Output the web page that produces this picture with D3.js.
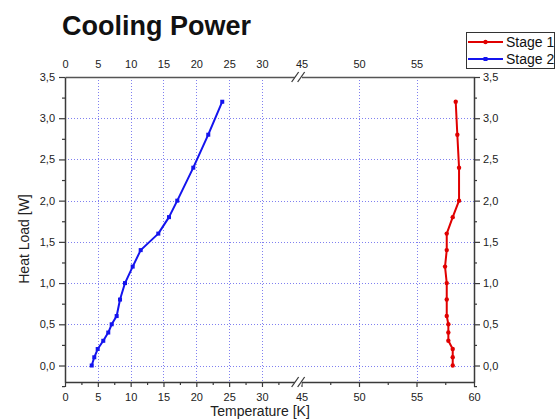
<!DOCTYPE html>
<html>
<head>
<meta charset="utf-8">
<script src="https://cdn.jsdelivr.net/npm/d3@7"></script>
<style>
  html, body { margin: 0; padding: 0; background: #fff; }
  svg { display: block; font-family: "Liberation Sans", Arial, sans-serif; }
</style>
</head>
<body>
<svg id="chart" width="557" height="420"></svg>
<script>
// ---- data ----
const heatLoad = [0, 0.1, 0.2, 0.3, 0.4, 0.5, 0.6, 0.8, 1.0, 1.2, 1.4, 1.6, 1.8, 2.0, 2.4, 2.8, 3.2];
const stage1Temp = [58.15, 58.15, 58.15, 57.77, 57.77, 57.77, 57.63, 57.63, 57.63, 57.48, 57.63, 57.63, 58.15, 58.7, 58.7, 58.55, 58.41];
const stage2Temp = [4.07, 4.46, 4.98, 5.83, 6.59, 7.11, 7.87, 8.38, 9.14, 10.31, 11.53, 14.21, 15.84, 17.1, 19.54, 21.82, 23.95];
const xTicksLeft = [0, 5, 10, 15, 20, 25, 30];
const xTicksRight = [45, 50, 55, 60];
const xMinorLeft = [2.5, 7.5, 12.5, 17.5, 22.5, 27.5, 32.5];
const xMinorRight = [47.5, 52.5, 57.5];
const yTicks = [0, 0.5, 1.0, 1.5, 2.0, 2.5, 3.0, 3.5];
const yMinor = [-0.25, 0.25, 0.75, 1.25, 1.75, 2.25, 2.75, 3.25];
const seriesNames = ["Stage 1", "Stage 2"];

// ---- layout ----
const L = 65, R = 474, T = 77, B = 382;
const breakL = 294.8, breakR = 301.5;
const svg = d3.select("#chart");
const axisColor = "#3a3a3a";
const gridColor = "#8080f0";
const red = "#e00000", blue = "#1414ee";
const fmt = d => d3.format(".1f")(d).replace(".", ",");

const xLeft = d3.scaleLinear().domain([0, 35]).range([L, breakL]);
const xRight = d3.scaleLinear().domain([45, 60]).range([breakR, R]);
const x = d3.scaleLinear().domain([0, 35, 45, 60]).range([L, breakL, breakR, R]);
const y = d3.scaleLinear().domain([-0.2, 3.5]).range([B, T]);

// ---- grid ----
const grid = svg.append("g").attr("stroke", gridColor).attr("stroke-width", 1).attr("stroke-dasharray", "1,2");
grid.selectAll("line.h").data(yTicks.filter(v => v < 3.5)).join("line")
  .attr("x1", L).attr("x2", R).attr("y1", d => Math.round(y(d)) + 0.5).attr("y2", d => Math.round(y(d)) + 0.5);
grid.selectAll("line.v").data(xTicksLeft.filter(v => v > 0).concat([50, 55])).join("line")
  .attr("x1", d => Math.round(x(d)) + 0.5).attr("x2", d => Math.round(x(d)) + 0.5).attr("y1", T).attr("y2", B);

// ---- axes ----
function styleAxis(g) {
  g.selectAll("path.domain").attr("stroke", axisColor).attr("stroke-width", 1.5);
  g.selectAll(".tick line").attr("stroke", axisColor).attr("stroke-width", 1.2);
  g.selectAll(".tick text").attr("fill", "#222").attr("font-size", 11);
}
// bottom
[[xLeft, xTicksLeft, xMinorLeft], [xRight, xTicksRight, xMinorRight]].forEach(([sc, maj, min]) => {
  svg.append("g").attr("transform", `translate(0,${B})`)
    .call(d3.axisBottom(sc).tickValues(maj).tickSize(5).tickSizeOuter(0).tickPadding(6).tickFormat(d3.format("d")))
    .call(styleAxis);
  svg.append("g").attr("transform", `translate(0,${B})`)
    .call(d3.axisBottom(sc).tickValues(min).tickSize(3).tickSizeOuter(0).tickFormat(""))
    .call(styleAxis).call(g => g.select("path.domain").remove());
  // top
  svg.append("g").attr("transform", `translate(0,${T})`)
    .call(d3.axisTop(sc).tickValues(maj).tickSize(0).tickSizeOuter(0).tickPadding(9).tickFormat(d3.format("d")))
    .call(styleAxis).call(g => g.select("path.domain").attr("stroke", "#555"));
});
// left
svg.append("g").attr("transform", `translate(${L},0)`)
  .call(d3.axisLeft(y).tickValues(yTicks).tickSize(6).tickSizeOuter(0).tickPadding(4).tickFormat(fmt))
  .call(styleAxis);
svg.append("g").attr("transform", `translate(${L},0)`)
  .call(d3.axisLeft(y).tickValues(yMinor).tickSize(3).tickFormat(""))
  .call(styleAxis).call(g => g.select("path.domain").remove());
// right
svg.append("g").attr("transform", `translate(${R},0)`)
  .call(d3.axisRight(y).tickValues(yTicks).tickSize(6).tickSizeOuter(0).tickPadding(3).tickFormat(fmt))
  .call(styleAxis);
svg.append("g").attr("transform", `translate(${R},0)`)
  .call(d3.axisRight(y).tickValues(yMinor).tickSize(3).tickFormat(""))
  .call(styleAxis).call(g => g.select("path.domain").remove());

// break marks
[T, B].forEach(yy => {
  const cx = (breakL + breakR) / 2;
  svg.append("rect").attr("x", breakL).attr("y", yy - 3).attr("width", breakR - breakL).attr("height", 6).attr("fill", "#fff");
  [-3, 3].forEach(off => {
    svg.append("line").attr("x1", cx + off - 3.5).attr("y1", yy + 5).attr("x2", cx + off + 3.5).attr("y2", yy - 5)
      .attr("stroke", axisColor).attr("stroke-width", 1.3);
  });
});

// ---- series ----
const line = d3.line().x(d => x(d[0])).y(d => y(d[1]));
const s1 = stage1Temp.map((t, i) => [t, heatLoad[i]]);
const s2 = stage2Temp.map((t, i) => [t, heatLoad[i]]);
svg.append("path").datum(s1).attr("d", line).attr("fill", "none").attr("stroke", red).attr("stroke-width", 2).attr("stroke-linejoin", "round");
svg.append("g").selectAll("circle").data(s1).join("circle")
  .attr("cx", d => x(d[0])).attr("cy", d => y(d[1])).attr("r", 2.2).attr("fill", red);
svg.append("path").datum(s2).attr("d", line).attr("fill", "none").attr("stroke", blue).attr("stroke-width", 2).attr("stroke-linejoin", "round");
svg.append("g").selectAll("rect").data(s2).join("rect")
  .attr("x", d => x(d[0]) - 2).attr("y", d => y(d[1]) - 2).attr("width", 4).attr("height", 4).attr("fill", blue);

// ---- titles ----
svg.append("text").attr("x", 62).attr("y", 35).attr("font-size", 27).attr("font-weight", "bold").attr("fill", "#111").text("Cooling Power");
svg.append("text").attr("x", 260).attr("y", 416).attr("text-anchor", "middle").attr("font-size", 14).attr("fill", "#222").text("Temperature [K]");
svg.append("text").attr("transform", "translate(29,239) rotate(-90)").attr("text-anchor", "middle").attr("font-size", 14).attr("fill", "#222").text("Heat Load [W]");

// ---- legend ----
const lg = svg.append("g");
lg.append("rect").attr("x", 466.5).attr("y", 32.5).attr("width", 88).attr("height", 36).attr("fill", "#fff").attr("stroke", "#333").attr("stroke-width", 1);
const colors = [red, blue];
seriesNames.forEach((name, i) => {
  const yy = 42 + i * 17;
  lg.append("line").attr("x1", 468).attr("x2", 503).attr("y1", yy).attr("y2", yy).attr("stroke", colors[i]).attr("stroke-width", 2);
  if (i === 0) lg.append("circle").attr("cx", 485.5).attr("cy", yy).attr("r", 2.2).attr("fill", colors[i]);
  else lg.append("rect").attr("x", 483.5).attr("y", yy - 2).attr("width", 4).attr("height", 4).attr("fill", colors[i]);
  lg.append("text").attr("x", 506).attr("y", yy).attr("dy", "0.35em").attr("font-size", 14).attr("fill", "#111").text(name);
});
</script>
</body>
</html>
